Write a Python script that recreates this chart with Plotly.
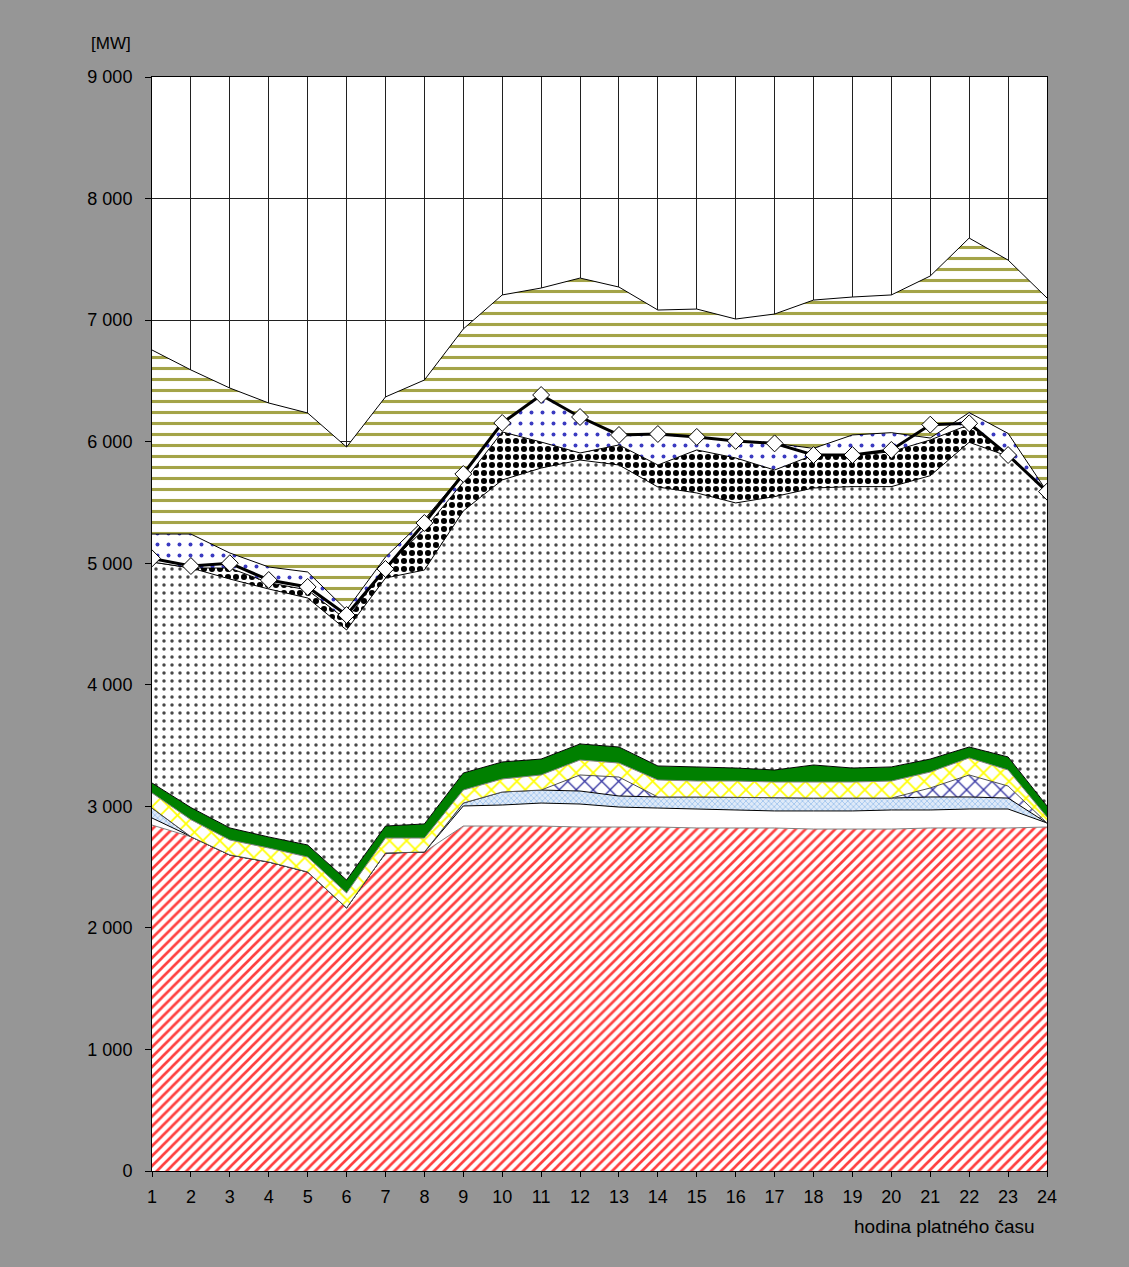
import plotly.graph_objects as go

hours = list(range(1, 25))

# vrstvy zdola nahoru [MW]
jaderne = [2846, 2750, 2600, 2542, 2460, 2164, 2616, 2624, 2838, 2838, 2838, 2830,
           2830, 2830, 2822, 2822, 2822, 2813, 2813, 2813, 2822, 2822, 2822, 2830]
bile = [58, 0, 0, 0, 0, 0, 0, 0, 165, 173, 189, 189,
        164, 156, 156, 148, 140, 149, 149, 157, 148, 156, 156, 33]
svetle_modre = [82, 0, 0, 0, 0, 0, 0, 0, 24, 107, 107, 107,
                91, 91, 99, 103, 106, 106, 106, 98, 107, 99, 90, 0]
mrizka = [0, 0, 0, 0, 0, 0, 0, 0, 0, 0, 0, 132,
          156, 0, 0, 0, 0, 0, 0, 0, 74, 181, 99, 0]
zlute = [124, 140, 123, 115, 123, 123, 123, 115, 107, 107, 124, 123,
         115, 140, 131, 135, 132, 132, 132, 140, 131, 140, 132, 49]
zelene = [82, 100, 99, 91, 99, 107, 99, 116, 140, 140, 131, 132,
          132, 115, 116, 107, 99, 140, 115, 116, 107, 90, 107, 91]
tecky = [1818, 1971, 2048, 2040, 2032, 2057, 2040, 2089, 2156, 2320, 2394, 2336,
         2320, 2295, 2254, 2181, 2249, 2279, 2315, 2306, 2331, 2507, 2474, 2586]
sachovnice = [0, 0, 90, 52, 66, 82, 92, 336, 238, 395, 214, 58,
              165, 181, 354, 370, 219, 271, 252, 288, 294, 145, 10, 0]
modre_tecky = [230, 279, 124, 129, 148, 82, 81, 80, 72, 74, 387, 296,
               82, 255, 107, 140, 219, 55, 173, 156, 16, 99, 178, 0]
olivove = [1514, 1350, 1357, 1349, 1308, 1341, 1317, 1147, 1187, 1053, 880, 1143,
           1217, 1020, 1052, 1003, 1064, 1220, 1135, 1133, 1333, 1436, 1426, 1593]

zatizeni = [5040, 4977, 5000, 4862, 4805, 4574, 4953, 5331, 5734, 6154, 6384, 6203,
            6055, 6063, 6039, 6006, 5986, 5890, 5890, 5932, 6140, 6151, 5890, 5589]

layers = [
    (jaderne, dict(shape="/", fgcolor="#ff4040", bgcolor="white", size=7, solidity=0.38), "#808080"),
    (bile, None, "black"),
    (svetle_modre, dict(shape="x", fgcolor="#a4c6ee", bgcolor="#dfeaf8", size=4, solidity=0.4), "black"),
    (mrizka, dict(shape="x", fgcolor="#3030a0", bgcolor="white", size=12, solidity=0.2), "#505050"),
    (zlute, dict(shape="x", fgcolor="#ffff00", bgcolor="white", size=12, solidity=0.26), "#808080"),
    (zelene, None, "black"),
    (tecky, dict(shape=".", fgcolor="#484848", bgcolor="white", size=8, solidity=0.15), "black"),
    (sachovnice, dict(shape=".", fgcolor="black", bgcolor="white", size=8, solidity=0.45), "black"),
    (modre_tecky, dict(shape=".", fgcolor="#3a3ac0", bgcolor="white", size=11, solidity=0.1), "black"),
    (olivove, dict(shape="-", fgcolor="#a4a448", bgcolor="white", size=11, solidity=0.28), "black"),
]

fig = go.Figure()
for vals, patt, lc in layers:
    kw = {}
    if patt:
        kw["fillpattern"] = dict(patt, fgopacity=1, fillmode="replace")
    fill_col = "#008000" if vals is zelene else "white"
    fig.add_trace(go.Scatter(
        x=hours, y=vals, stackgroup="one", mode="lines",
        line=dict(color=lc, width=1), fillcolor=fill_col,
        showlegend=False, hoverinfo="skip", **kw,
    ))

fig.add_trace(go.Scatter(
    x=hours, y=zatizeni, mode="lines+markers",
    line=dict(color="black", width=3),
    marker=dict(symbol="diamond", size=13, color="white", line=dict(color="black", width=1)),
    showlegend=False, hoverinfo="skip",
))

font = dict(family="Arial, Liberation Sans, sans-serif", size=18, color="black")

fig.add_annotation(text="[MW]", xref="paper", yref="paper", x=-0.021, y=1.031,
                   xanchor="right", yanchor="middle", showarrow=False,
                   font=dict(font, size=17))
fig.add_annotation(text="hodina platného času", xref="paper", yref="paper", x=0.989, y=-0.051,
                   xanchor="right", yanchor="middle", showarrow=False,
                   font=dict(font, size=19))

fig.update_layout(
    width=1129, height=1267,
    margin=dict(l=152, r=82, t=77, b=96),
    paper_bgcolor="#969696", plot_bgcolor="white",
    font=font, separators=". ",
    xaxis=dict(range=[1, 24], tickmode="linear", tick0=1, dtick=1,
               showgrid=True, gridcolor="#202020", gridwidth=1,
               showline=True, linecolor="black", linewidth=1, mirror=True,
               ticks="outside", ticklen=5, tickcolor="black", zeroline=False,
               ticklabelstandoff=4),
    yaxis=dict(range=[0, 9000], tickmode="linear", tick0=0, dtick=1000,
               separatethousands=True,
               showgrid=True, gridcolor="#202020", gridwidth=1,
               showline=True, linecolor="black", linewidth=1, mirror=True,
               ticks="outside", ticklen=6, tickcolor="black", zeroline=False,
               ticklabelstandoff=9),
)

fig.write_html("out.html", config={"displayModeBar": False},
               post_script="document.body.style.margin='0';")
